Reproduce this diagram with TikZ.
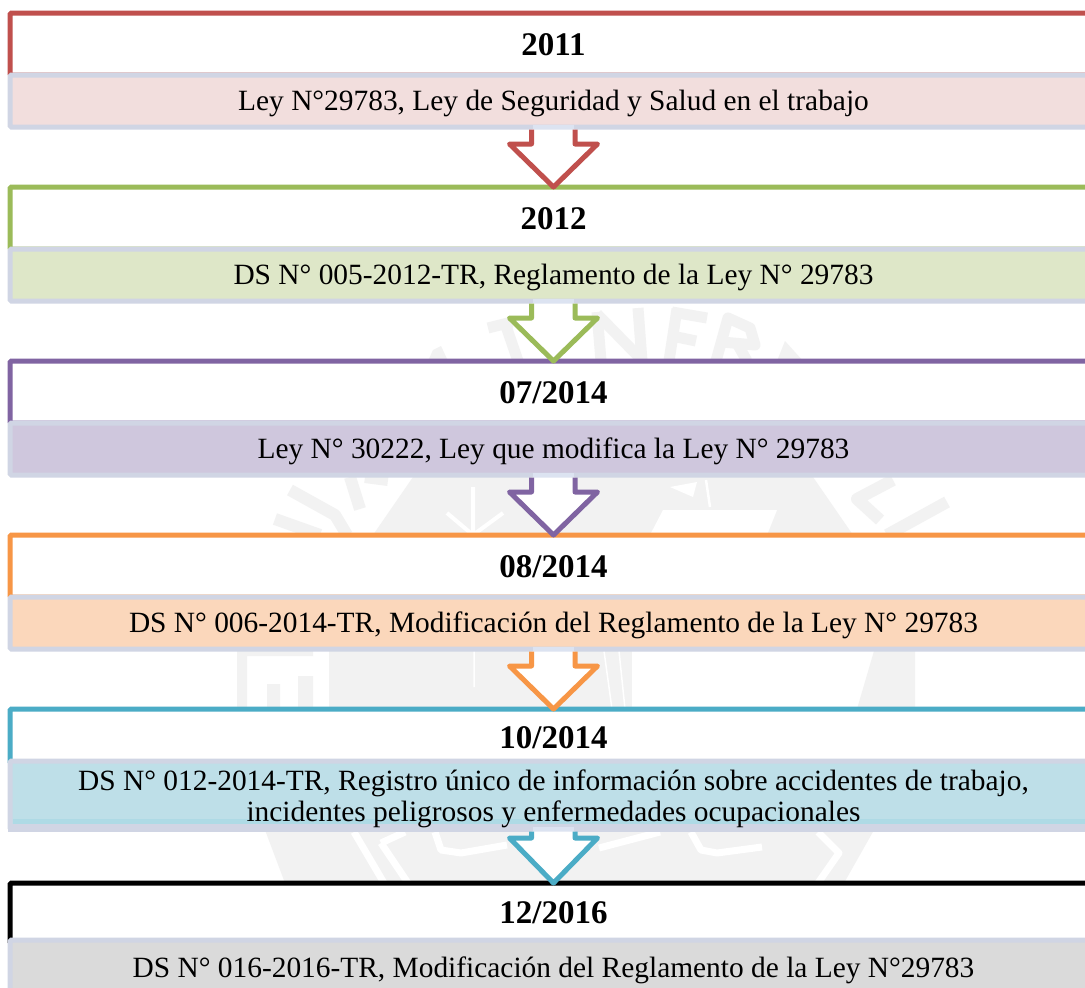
\documentclass[tikz,border=0pt]{standalone}
\usepackage{fontspec}
\setmainfont{Liberation Serif}
\usetikzlibrary{calc}
\definecolor{cA}{HTML}{C0504D}\definecolor{fA}{HTML}{F2DEDD}
\definecolor{cB}{HTML}{9BBB59}\definecolor{fB}{HTML}{DEE7C8}
\definecolor{cC}{HTML}{8064A2}\definecolor{fC}{HTML}{CFC7DD}
\definecolor{cD}{HTML}{F79646}\definecolor{fD}{HTML}{FBD7BB}
\definecolor{cE}{HTML}{4BACC6}\definecolor{fE}{HTML}{BEDFE8}
\definecolor{cF}{HTML}{000000}\definecolor{fF}{HTML}{DADADA}
\definecolor{edge}{HTML}{D0D5E4}
\definecolor{stemtop}{HTML}{DCE3F1}
\definecolor{seal}{HTML}{F2F2F2}
\newcommand{\bajar}[2]{\raisebox{-#1pt}[\height][\depth]{#2}}
\tikzset{
  x=1pt,y=-1pt,
  hdr/.style={rectangle,draw=#1,line width=5pt,fill=white,rounded corners=1.5pt,minimum width=1087pt,minimum height=62pt,anchor=north west,outer sep=0pt,inner sep=0pt,font=\fontsize{33}{36}\selectfont\bfseries},
  bodybox/.style={rectangle,draw=edge,line width=5pt,fill=#1,rounded corners=1.5pt,minimum width=1087pt,minimum height=52pt,anchor=north west,outer sep=0pt,inner sep=0pt,align=center,font=\fontsize{29.4}{31.5}\selectfont},
  flecha/.style={draw=#1,fill=white,line width=5pt,line join=round},
  sealline/.style={draw=seal,line width=#1,line cap=butt,line join=round},
  sealgap/.style={draw=white,line width=#1,line join=round},
}
\newcommand{\flechaentre}[4]{%
  \fill[stemtop] ($(#1.south)+(-21,-2.5)$) rectangle ($(#1.south)+(20,2.5)$);
  \draw[flecha=#3] ($(#1.south)+(-22,2.5)$) -- ($(#1.south)+(-22,#4)$) -- ($(#1.south)+(-44,#4)$)
    -- (#2.north) -- ($(#1.south)+(44,#4)$) -- ($(#1.south)+(21.5,#4)$) -- ($(#1.south)+(21.5,2.5)$);
}
\begin{document}
\begin{tikzpicture}
\useasboundingbox (0,0) rectangle (1085,988);
\clip (0,0) rectangle (1085,988);
\fill[white] (0,0) rectangle (1085,988);
% faint seal seen behind the gaps
\draw[sealline=11pt] (488,328)--(512,322) (506,326)--(518,361);
\fill[seal] (428,361)--(433,350)--(441,346)--(448,361)--cycle;
\draw[sealline=11pt] (601,361)--(597,312) (597,314)--(640,358) (642,361)--(638,308);
\draw[sealline=11pt] (669,361)--(677,309) (672,312)--(707,318) (672,336)--(696,341);
\draw[sealline=11pt] (716,361)--(728,318)--(750,328)--(755,345)--(722,342) (738,345)--(747,361);
\fill[seal] (777,361)--(785,341)--(803,361)--cycle;
% band 477-535
\fill[seal] (413,477)--(373,535)--(853,535)--(813,477)--cycle;
\fill[white] (663,510)--(777,510)--(767,535)--(650,535)--cycle;
\fill[white] (670,487)--(697,482)--(693,497)--cycle;
\draw[sealgap=2.5pt] (706,480)--(710,507);
\draw[sealgap=4pt] (473,535)--(473,487) (473,535)--(447,513) (473,535)--(503,513);
\draw[sealline=12pt] (290,490)--(335,515)--(347,535) (275,519)--(320,535) (350,477)--(360,509) (365,477)--(388,480);
\draw[sealline=12pt] (893,480)--(857,499)--(880,520) (887,535)--(947,502);
% band 651-709
\fill[seal] (329,651) rectangle (632,709);
\fill[seal] (632,651) arc[start angle=180,end angle=0,radius=98,y radius=-35] --cycle;
\draw[sealgap=1.5pt] (604,651)--(612,709) (619,651)--(625,709) (474,651)--(474,687);
\draw[sealgap=2pt] (715,666) .. controls (730,655) and (750,655) .. (770,666);
\fill[seal] (874,651)--(915,651)--(915,709)--(857,709)--cycle;
\fill[seal] (237,651) rectangle (247,709) (267,684) rectangle (280,709) (298,676) rectangle (313,709) (247,651) rectangle (313,656);
% band 830-883
\fill[seal] (265,830)--(285,883)--(844,883)--(874,830)--cycle;
\draw[sealgap=7pt] (354,832)--(384,883) (381,843)--(408,883) (381,843)--(405,832);
\draw[sealgap=7pt] (435,832)--(441,850)--(461,853)--(507,845) (599,848)--(660,832);
\draw[sealgap=7pt] (691,832)--(701,850)--(717,853)--(762,847);
\draw[sealgap=7pt] (818,832)--(839,853)--(818,883);
% boxes
\node[hdr=cA] (h1) at (10,13) {\bajar{0.5}{2011}};
\node[bodybox=fA] (b1) at (10,75) {\bajar{2.8}{Ley N°29783, Ley de Seguridad y Salud en el trabajo}};
\node[hdr=cB] (h2) at (10,187) {\bajar{0.5}{2012}};
\node[bodybox=fB] (b2) at (10,249) {\bajar{2.8}{DS N° 005-2012-TR, Reglamento de la Ley N° 29783}};
\node[hdr=cC] (h3) at (10,361) {\bajar{0.5}{07/2014}};
\node[bodybox=fC] (b3) at (10,423) {\bajar{2.8}{Ley N° 30222, Ley que modifica la Ley N° 29783}};
\node[hdr=cD] (h4) at (10,535) {\bajar{0.5}{08/2014}};
\node[bodybox=fD] (b4) at (10,597) {\bajar{2.8}{DS N° 006-2014-TR, Modificación del Reglamento de la Ley N° 29783}};
\node[hdr=cE,minimum height=54pt] (h5) at (10,709) {\bajar{2}{10/2014}};
\node[bodybox=fE,minimum height=68pt] (b5) at (10,761) {};
\fill[edge] ($(b5.south west)+(-2.5,-5)$) rectangle ($(b5.south east)+(2.5,2.5)$);
\fill[cE!45!white] ($(b5.south west)+(2.5,-10)$) rectangle ($(b5.south east)+(0,-5)$);
\node[font=\fontsize{29.4}{31.5}\selectfont,align=center,inner sep=0pt,yshift=-4pt] (t5) at (b5.center) {DS N° 012-2014-TR, Registro único de información sobre accidentes de trabajo,\\incidentes peligrosos y enfermedades ocupacionales};
\node[hdr=cF,minimum height=60pt] (h6) at (10,883) {12/2016};
\node[bodybox=fF] (b6) at (10,940) {\bajar{4.5}{DS N° 016-2016-TR, Modificación del Reglamento de la Ley N°29783}};
\flechaentre{b1}{h2}{cA}{17}
\flechaentre{b2}{h3}{cB}{17}
\flechaentre{b3}{h4}{cC}{17}
\flechaentre{b4}{h5}{cD}{17}
\flechaentre{b5}{h6}{cE}{9}
\end{tikzpicture}
\end{document}
